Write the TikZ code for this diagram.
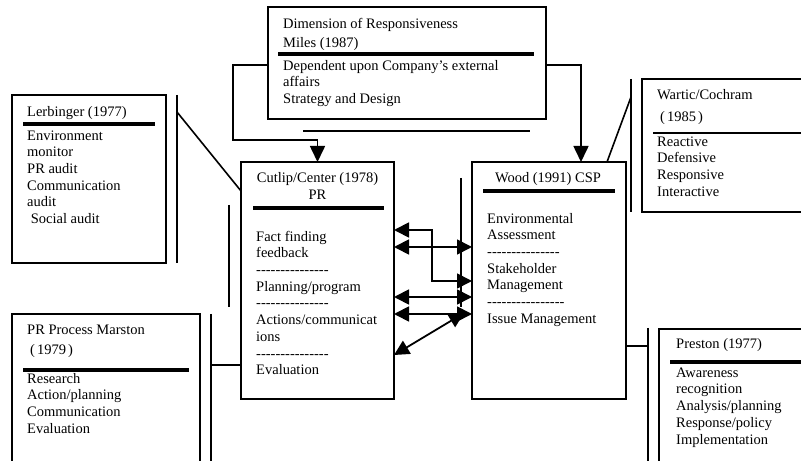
\documentclass[tikz,border=0pt]{standalone}
\usepackage{fontspec}
\setmainfont{Liberation Serif}
\usetikzlibrary{arrows.meta}
\newcommand\dsh[1]{\foreach\k in {1,...,#1}{\mbox{-}}}
\tikzset{
  box/.style={draw, line width=1.3bp, anchor=north west, inner sep=0pt, outer sep=0pt},
  rule/.style={line width=4bp},
  ln/.style={line width=1.6bp},
  txt/.style={anchor=base west, inner sep=0pt, font=\fontsize{14.5bp}{16.7bp}\selectfont},
  ctxt/.style={anchor=base, inner sep=0pt, font=\fontsize{14.5bp}{16.7bp}\selectfont},
  blk/.style={anchor=north west, inner sep=0pt, align=left, yshift=11.69bp, font=\fontsize{14.5bp}{16.7bp}\selectfont},
  tip/.style={-{Triangle[length=16bp,width=15bp]}},
  dbl/.style={{Triangle[length=15bp,width=15bp]}-{Triangle[length=15bp,width=15bp]}, line width=1.8bp},
}
\begin{document}
\begin{tikzpicture}[x=1bp,y=-1bp]
\useasboundingbox (0,0) rectangle (801,461);
\clip (0,0) rectangle (801,461);
% boxes
\node[box, minimum width=278bp, minimum height=112bp] (miles) at (268,7) {};
\node[box, minimum width=153bp, minimum height=237bp] (cutlip) at (241,162) {};
\node[box, minimum width=154bp, minimum height=237bp] (wood) at (472,162) {};
\node[box, minimum width=154bp, minimum height=168bp] (lerb) at (12,95) {};
\node[box, minimum width=188bp, minimum height=200bp] (marston) at (12,314) {};
\node[box, minimum width=200bp, minimum height=133bp] (wartic) at (642,79) {};
\node[box, minimum width=200bp, minimum height=200bp] (preston) at (659,329) {};
% rules
\draw[rule] (278,54) -- (534,54);
\draw[rule] (253,208) -- (384,208);
\draw[rule, line width=3.5bp] (483,191) -- (615,191);
\draw[rule] (23,124) -- (155,124);
\draw[rule] (23,370) -- (189,370);
\draw[rule, line width=2bp] (653,133) -- (810,133);
\draw[rule] (670,362) -- (810,362);
% texts
\node[txt] (m1) at (283,29) {Dimension of Responsiveness};
\node[txt] (m2) at (283,48) {Miles (1987)};
\node[blk] (m3) at (283,70) {\strut Dependent upon Company’s external\\\strut affairs\\\strut Strategy and Design};
\node[ctxt] (c1) at (317.5,183) {Cutlip/Center (1978)};
\node[ctxt] (c2) at (317.5,200) {PR};
\node[blk] (c3) at (256,241) {\strut Fact finding\\\strut feedback\\\strut\dsh{15}\\\strut Planning/program\\\strut\dsh{15}\\\strut Actions/communicat\\\strut ions\\\strut\dsh{15}\\\strut Evaluation};
\node[ctxt] (w1) at (548,183) {Wood (1991) CSP};
\node[blk] (w2) at (487,223) {\strut Environmental\\\strut Assessment\\\strut\dsh{15}\\\strut Stakeholder\\\strut Management\\\strut\dsh{16}\\\strut Issue Management};
\node[txt] (l1) at (27,117) {Lerbinger (1977)};
\node[blk] (l2) at (27,140) {\strut Environment\\\strut monitor\\\strut PR audit\\\strut Communication\\\strut audit\\\strut\ Social audit};
\node[txt] (p1) at (27,335) {PR Process Marston};
\node[txt] (p2) at (27,355) {\hspace{3bp}(\hspace{2bp}1979\hspace{2bp})};
\node[blk] (p3) at (27,383) {\strut Research\\\strut Action/planning\\\strut Communication\\\strut Evaluation};
\node[txt] (a1) at (657,100) {Wartic/Cochram};
\node[txt] (a2) at (657,122) {\hspace{3bp}(\hspace{2bp}1985\hspace{2bp})};
\node[blk] (a3) at (657,146) {\strut Reactive\\\strut Defensive\\\strut Responsive\\\strut Interactive};
\node[txt] (s1) at (676,349) {Preston (1977)};
\node[blk] (s2) at (676,377) {\strut Awareness\\\strut recognition\\\strut Analysis/planning\\\strut Response/policy\\\strut Implementation};
% connectors from Miles
\draw[ln, tip] (miles.west |- 0,65) -- (233,65) -- (233,140) -- (cutlip.north |- 0,140) -- (cutlip.north);
\draw[ln, tip] (miles.east |- 0,65) -- (581,65) -- (wood.north -| 581,0);
\draw[ln] (303,131) -- (530,131);
% arrows between Cutlip and Wood
\draw[dbl] (cutlip.east |- 0,230) -- (432,230) -- (432,281) -- (wood.west |- 0,281);
\draw[dbl] (cutlip.east |- 0,247) -- (wood.west |- 0,247);
\draw[dbl] (cutlip.east |- 0,297) -- (wood.west |- 0,297);
\draw[dbl] (cutlip.east |- 0,314) -- (wood.west |- 0,314);
\draw[dbl] (cutlip.east |- 0,355) -- (464,313);
\draw[ln] (461,178) -- (461,307);
% side lines
\draw[ln] (177,95) -- (177,263);
\draw[ln] (177,112) -- (cutlip.west |- 0,191);
\draw[ln] (229,205) -- (229,307);
\draw[ln] (211,314) -- (211,470);
\draw[ln] (211,365) -- (cutlip.west |- 0,365);
\draw[ln] (631,79) -- (631,212);
\draw[ln] (631,97) -- (wood.north -| 607,0);
\draw[ln] (648,328) -- (648,470);
\draw[ln] (wood.east |- 0,346) -- (648,346);
\end{tikzpicture}
\end{document}
